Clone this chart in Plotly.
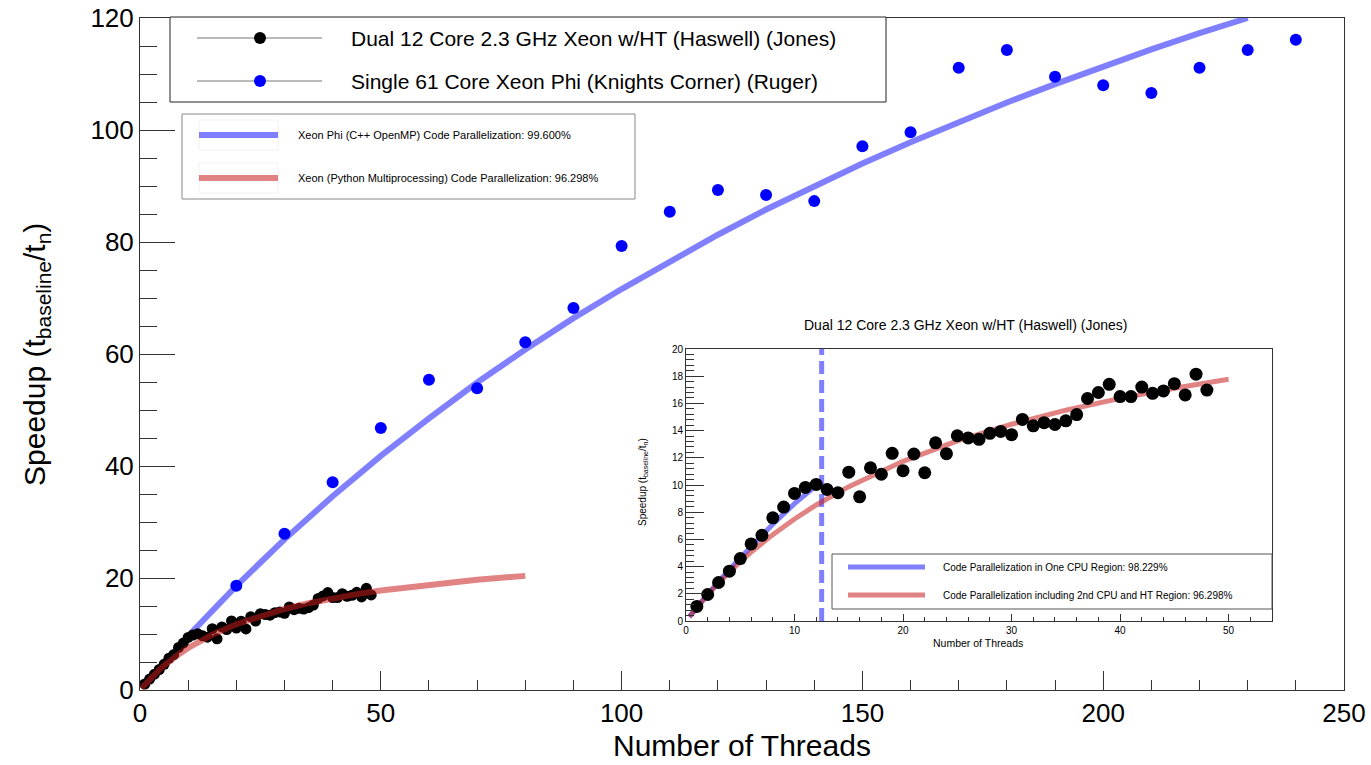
import plotly.graph_objects as go

# ---------------- data ----------------
JONES_X = list(range(1, 49))
JONES_Y = [1.07, 1.95, 2.83, 3.66, 4.59, 5.67, 6.30, 7.59, 8.38, 9.38,
           9.82, 10.04, 9.67, 9.43, 10.94, 9.13, 11.26, 10.79, 12.33, 11.05,
           12.28, 10.90, 13.10, 12.30, 13.62, 13.46, 13.36, 13.80, 13.94, 13.70,
           14.82, 14.35, 14.58, 14.45, 14.72, 15.18, 16.36, 16.80, 17.40, 16.50,
           16.50, 17.20, 16.74, 16.92, 17.45, 16.62, 18.15, 16.98]

RUGER_X = [20, 30, 40, 50, 60, 70, 80, 90, 100, 110, 120, 130, 140, 150,
           160, 170, 180, 190, 200, 210, 220, 230, 240]
RUGER_Y = [18.6, 27.9, 37.1, 46.8, 55.4, 53.9, 62.1, 68.2, 79.3, 85.4, 89.3,
           88.4, 87.3, 97.1, 99.6, 111.1, 114.3, 109.5, 108.0, 106.6, 111.1,
           114.3, 116.1]

# fitted curves
PHI_FIT_X = [1, 10, 20, 30, 40, 50, 60, 70, 80, 90, 100, 110, 120, 130, 140,
             150, 160, 170, 180, 190, 200, 210, 220, 230]
PHI_FIT_Y = [1.0, 9.65, 18.6, 26.9, 34.6, 41.8, 48.5, 54.9, 60.8, 66.4, 71.6,
             76.6, 81.3, 85.8, 90.0, 94.0, 97.8, 101.4, 104.9, 108.2, 111.4,
             114.4, 117.3, 120.0]

XEON_FIT_X = [0.3, 1, 2, 3, 4, 5, 6, 8, 10, 12, 15, 20, 25, 30, 35, 40, 45,
              50, 60, 70, 80]
XEON_FIT_Y = [0.3, 1.0, 1.93, 2.79, 3.6, 4.36, 5.06, 6.35, 7.5, 8.53, 9.88,
              11.74, 13.24, 14.47, 15.5, 16.37, 17.12, 17.77, 18.84, 19.69,
              20.38]

ONECPU_FIT_X = [0.3, 1, 2, 4, 6, 8, 10, 12, 12.3]
ONECPU_FIT_Y = [0.3, 1.0, 1.97, 3.8, 5.51, 7.12, 8.63, 9.95, 10.0]

CPU_BOUNDARY_X = 12.5
INSET_FIT_MAX_X = 50

LEGEND_MAIN = ["Dual 12 Core 2.3 GHz Xeon w/HT (Haswell) (Jones)",
               "Single 61 Core Xeon Phi (Knights Corner) (Ruger)"]
LEGEND_FITS = ["Xeon Phi (C++ OpenMP) Code Parallelization: 99.600%",
               "Xeon (Python Multiprocessing) Code Parallelization: 96.298%"]
LEGEND_INSET = ["Code Parallelization in One CPU Region: 98.229%",
                "Code Parallelization including 2nd CPU and HT Region: 96.298%"]
INSET_TITLE = "Dual 12 Core 2.3 GHz Xeon w/HT (Haswell) (Jones)"

# ---------------- styles ----------------
BLUE_FIT = "rgba(0,0,255,0.5)"
RED_FIT = "rgba(200,30,30,0.55)"
FONT = "Liberation Sans, Arial, sans-serif"
W, H = 1371, 765
L, R, T, B = 140, 1344, 18, 690


def px(x):
    return (x - L) / (R - L)


def py(y):
    return (B - y) / (B - T)


fig = go.Figure()

# main panel
fig.add_trace(go.Scatter(x=PHI_FIT_X, y=PHI_FIT_Y, mode="lines",
                         line=dict(color=BLUE_FIT, width=6), xaxis="x", yaxis="y"))
fig.add_trace(go.Scatter(x=RUGER_X, y=RUGER_Y, mode="markers",
                         marker=dict(color="#0000ff", size=12), xaxis="x", yaxis="y"))
fig.add_trace(go.Scatter(x=JONES_X, y=JONES_Y, mode="markers",
                         marker=dict(color="black", size=11), xaxis="x", yaxis="y"))
fig.add_trace(go.Scatter(x=XEON_FIT_X, y=XEON_FIT_Y, mode="lines",
                         line=dict(color=RED_FIT, width=6), xaxis="x", yaxis="y"))

# inset panel
ins_x = [x for x in XEON_FIT_X if x <= INSET_FIT_MAX_X]
ins_y = XEON_FIT_Y[:len(ins_x)]
fig.add_trace(go.Scatter(x=ONECPU_FIT_X, y=ONECPU_FIT_Y, mode="lines",
                         line=dict(color=BLUE_FIT, width=5), xaxis="x2", yaxis="y2"))
fig.add_trace(go.Scatter(x=[CPU_BOUNDARY_X, CPU_BOUNDARY_X], y=[0, 20], mode="lines",
                         line=dict(color=BLUE_FIT, width=5, dash="13px,6px"),
                         xaxis="x2", yaxis="y2"))
fig.add_trace(go.Scatter(x=ins_x, y=ins_y, mode="lines",
                         line=dict(color=RED_FIT, width=5), xaxis="x2", yaxis="y2"))
fig.add_trace(go.Scatter(x=JONES_X, y=JONES_Y, mode="markers",
                         marker=dict(color="black", size=13), xaxis="x2", yaxis="y2"))

axis_common = dict(showline=True, mirror=True, linecolor="#333", linewidth=1,
                   showgrid=False, zeroline=False, ticks="inside", tickcolor="#333",
                   automargin=False,
                   tickfont=dict(family=FONT, color="black"))

fig.update_layout(
    template="none",
    width=W, height=H, showlegend=False,
    paper_bgcolor="white", plot_bgcolor="white",
    margin=dict(l=L, r=W - R, t=T, b=H - B, autoexpand=False),
    xaxis=dict(axis_common, domain=[0, 1], range=[0, 250], dtick=50, tick0=0,
               ticklen=19, tickfont=dict(family=FONT, size=26, color="black"),
               minor=dict(dtick=10, ticklen=10, ticks="inside", tickcolor="#333"),
               anchor="y"),
    yaxis=dict(axis_common, domain=[0, 1], range=[0, 120], dtick=20, tick0=0,
               ticklen=35, tickfont=dict(family=FONT, size=26, color="black"),
               minor=dict(dtick=5, ticklen=17, ticks="inside", tickcolor="#333"),
               anchor="x"),
    xaxis2=dict(axis_common, domain=[px(686), px(1272)], range=[0, 54], dtick=10,
                tick0=0, ticklen=7, tickfont=dict(family=FONT, size=10, color="black"),
                minor=dict(dtick=2, ticklen=4, ticks="inside", tickcolor="#333"),
                anchor="y2"),
    yaxis2=dict(axis_common, domain=[py(621), py(349)], range=[0, 20], dtick=2,
                tick0=0, ticklen=18, tickfont=dict(family=FONT, size=10, color="black"),
                minor=dict(dtick=0.4, ticklen=8, ticks="inside", tickcolor="#333"),
                anchor="x2"),
)

shapes = []
ann = []


def text(x, y, s, size, xanchor="left", angle=0):
    ann.append(dict(x=px(x), y=py(y), xref="paper", yref="paper", text=s,
                    showarrow=False, xanchor=xanchor, yanchor="middle",
                    textangle=angle, font=dict(family=FONT, size=size, color="black")))


def rect(x0, y0, x1, y1, color, width=1):
    shapes.append(dict(type="rect", xref="paper", yref="paper", x0=px(x0), x1=px(x1),
                       y0=py(y1), y1=py(y0), line=dict(color=color, width=width),
                       fillcolor="rgba(255,255,255,1)", layer="above"))


def hline(x0, x1, y, color, width):
    shapes.append(dict(type="line", xref="paper", yref="paper", x0=px(x0), x1=px(x1),
                       y0=py(y), y1=py(y), line=dict(color=color, width=width),
                       layer="above"))


def dot(x, y, color, r=6):
    shapes.append(dict(type="circle", xref="paper", yref="paper",
                       xsizemode="pixel", ysizemode="pixel",
                       xanchor=px(x), yanchor=py(y), x0=-r, x1=r, y0=-r, y1=r,
                       fillcolor=color, line=dict(color=color, width=0), layer="above"))


# main legend
rect(170, 17, 886, 102, "#222", 1)
for i, (lab, col) in enumerate(zip(LEGEND_MAIN, ["black", "#0000ff"])):
    yy = [38, 81][i]
    hline(197, 322, yy, "#777", 1.2)
    dot(260, yy, col)
    text(349, yy, lab, 21)

# fit legend
rect(182, 114, 635, 199, "#888", 1)
for i, (lab, col) in enumerate(zip(LEGEND_FITS, [BLUE_FIT, RED_FIT])):
    yy = [135, 178][i]
    shapes.append(dict(type="rect", xref="paper", yref="paper", x0=px(199), x1=px(278),
                       y0=py(yy + 15), y1=py(yy - 15), line=dict(color="#f2f2f2", width=1),
                       layer="above"))
    hline(199, 278, yy, col, 6)
    text(296, yy, lab, 11)

# inset legend
rect(832, 554, 1272, 609, "#555", 1)
for i, (lab, col) in enumerate(zip(LEGEND_INSET, [BLUE_FIT, RED_FIT])):
    yy = [567, 595][i]
    hline(848, 925, yy, col, 5)
    text(941, yy, lab, 10)

# titles
text(965, 325, INSET_TITLE, 14, xanchor="center")
text(978, 643, "Number of Threads", 10.5, xanchor="center")
text(643, 482, "Speedup (t<sub>baseline</sub>/t<sub>n</sub>)", 10, xanchor="center", angle=-90)
text(742, 745, "Number of Threads", 30, xanchor="center")
text(36, 355, "Speedup (t<sub>baseline</sub>/t<sub>n</sub>)", 30, xanchor="center", angle=-90)

fig.update_layout(shapes=shapes, annotations=ann)
fig.write_html("out.html")
